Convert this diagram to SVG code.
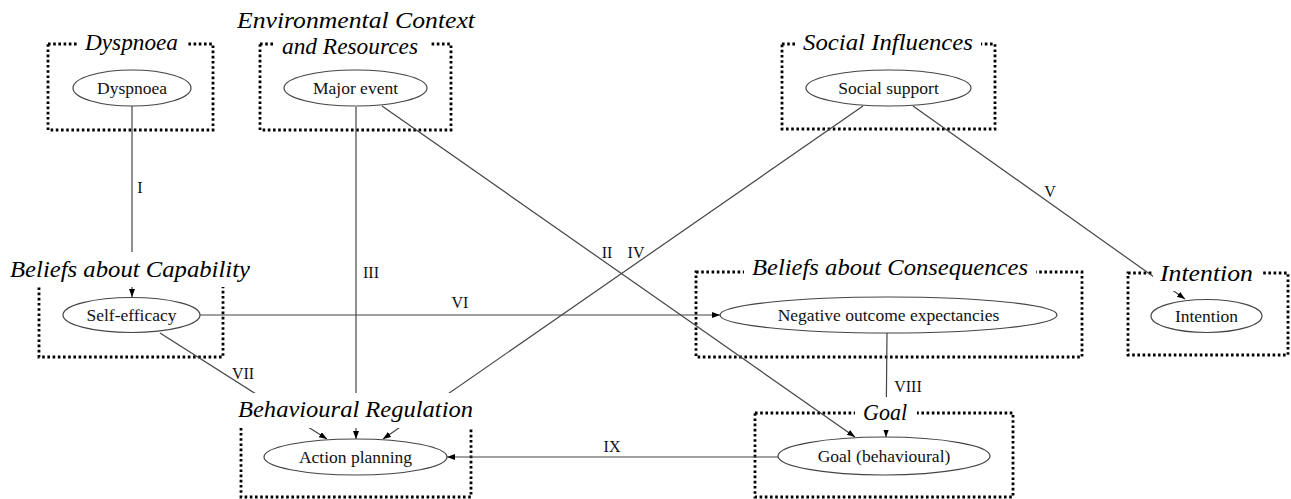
<svg xmlns="http://www.w3.org/2000/svg" width="1291" height="499" viewBox="0 0 1291 499">
<style>
.box{fill:none;stroke:#000;stroke-width:2.8;stroke-dasharray:2.6 2.6}
.tbg{fill:#fff;stroke:none}
.title{font-style:italic;font-size:23px;fill:#000;text-anchor:middle}
.node ellipse{fill:#fff;stroke:#444;stroke-width:1.2}
.lbl{font-size:17.5px;fill:#111;text-anchor:middle}
.edge{stroke:#444;stroke-width:1.2;fill:none}
.num{font-size:16px;fill:#111;text-anchor:middle}
</style>
<defs>
<marker id="arr" markerUnits="userSpaceOnUse" markerWidth="9" markerHeight="7" refX="8" refY="3" orient="auto">
<path d="M0,0 L8,3 L0,6 Z" fill="#000"/>
</marker>
</defs>
<rect width="1291" height="499" fill="#fff"/>
<g id="boxes">
<rect class="box" x="48" y="44" width="165" height="86"/>
<rect class="box" x="260" y="44" width="191" height="86"/>
<rect class="box" x="782" y="44" width="213" height="85"/>
<rect class="box" x="39" y="272" width="184" height="85"/>
<rect class="box" x="696" y="272" width="386" height="85"/>
<rect class="box" x="1128" y="273" width="160" height="82"/>
<rect class="box" x="241" y="410" width="230" height="87"/>
<rect class="box" x="755" y="413" width="258" height="84"/>
</g>
<g id="connectors" font-family="Liberation Serif, Times New Roman, DejaVu Serif, serif">
<line class="edge" x1="132" y1="106" x2="132" y2="297" marker-end="url(#arr)"/>
<line class="edge" x1="382" y1="106" x2="855" y2="437" marker-end="url(#arr)"/>
<line class="edge" x1="356" y1="107" x2="356" y2="439" marker-end="url(#arr)"/>
<line class="edge" x1="863" y1="106" x2="383" y2="439" marker-end="url(#arr)"/>
<line class="edge" x1="913" y1="106" x2="1185" y2="299" marker-end="url(#arr)"/>
<line class="edge" x1="200" y1="315" x2="720" y2="315" marker-end="url(#arr)"/>
<line class="edge" x1="160" y1="333" x2="327" y2="439" marker-end="url(#arr)"/>
<line class="edge" x1="887" y1="333" x2="886" y2="437" marker-end="url(#arr)"/>
<line class="edge" x1="778" y1="457" x2="447" y2="457" marker-end="url(#arr)"/>
<text class="num" x="140" y="193">I</text>
<text class="num" x="607" y="258">II</text>
<text class="num" x="371" y="278">III</text>
<text class="num" x="636" y="258">IV</text>
<text class="num" x="1050" y="197">V</text>
<text class="num" x="460" y="308">VI</text>
<text class="num" x="243" y="379">VII</text>
<text class="num" x="908" y="392">VIII</text>
<text class="num" x="612" y="452">IX</text>
</g>
<g id="titles" font-family="Liberation Serif, Times New Roman, DejaVu Serif, serif">
<rect class="tbg" x="77" y="27" width="109" height="33"/>
<text class="title" x="131.5" y="50" textLength="93" lengthAdjust="spacingAndGlyphs">Dyspnoea</text>
<rect class="tbg" x="273" y="32" width="156" height="32"/>
<text class="title" x="356" y="28" textLength="238" lengthAdjust="spacingAndGlyphs">Environmental Context</text>
<text class="title" x="350" y="54" textLength="136" lengthAdjust="spacingAndGlyphs">and Resources</text>
<rect class="tbg" x="797" y="27" width="184" height="33"/>
<text class="title" x="888" y="50" textLength="170" lengthAdjust="spacingAndGlyphs">Social Influences</text>
<rect class="tbg" x="2" y="252" width="256" height="35"/>
<text class="title" x="130" y="277" textLength="240" lengthAdjust="spacingAndGlyphs">Beliefs about Capability</text>
<rect class="tbg" x="744" y="252" width="292" height="33"/>
<text class="title" x="890" y="275" textLength="276" lengthAdjust="spacingAndGlyphs">Beliefs about Consequences</text>
<rect class="tbg" x="1153" y="258" width="108" height="33"/>
<text class="title" x="1206.5" y="281" textLength="93" lengthAdjust="spacingAndGlyphs">Intention</text>
<rect class="tbg" x="230" y="393" width="251" height="35"/>
<text class="title" x="355.5" y="417" textLength="235" lengthAdjust="spacingAndGlyphs">Behavioural Regulation</text>
<rect class="tbg" x="855" y="397" width="62" height="33"/>
<text class="title" x="885" y="420" textLength="44" lengthAdjust="spacingAndGlyphs">Goal</text>
</g>
<g id="nodes" font-family="Liberation Serif, Times New Roman, DejaVu Serif, serif">
<g id="n-dyspnoea" class="node"><ellipse cx="132" cy="88" rx="59" ry="18"/><text class="lbl" x="132" y="94">Dyspnoea</text></g>
<g id="n-major-event" class="node"><ellipse cx="355.5" cy="88" rx="71.5" ry="18"/><text class="lbl" x="355.5" y="94">Major event</text></g>
<g id="n-social-support" class="node"><ellipse cx="888.5" cy="88" rx="82.5" ry="18"/><text class="lbl" x="888.5" y="94">Social support</text></g>
<g id="n-self-efficacy" class="node"><ellipse cx="131.5" cy="315" rx="68.5" ry="17.5"/><text class="lbl" x="131.5" y="321">Self-efficacy</text></g>
<g id="n-negative" class="node"><ellipse cx="888.5" cy="315" rx="168.5" ry="18"/><text class="lbl" x="888.5" y="321">Negative outcome expectancies</text></g>
<g id="n-intention" class="node"><ellipse cx="1206.5" cy="316" rx="55.5" ry="16.5"/><text class="lbl" x="1206.5" y="322">Intention</text></g>
<g id="n-action-planning" class="node"><ellipse cx="355.5" cy="457" rx="91.5" ry="18"/><text class="lbl" x="355.5" y="463">Action planning</text></g>
<g id="n-goal" class="node"><ellipse cx="884" cy="456" rx="106" ry="19"/><text class="lbl" x="884" y="462">Goal (behavioural)</text></g>
</g>
</svg>
